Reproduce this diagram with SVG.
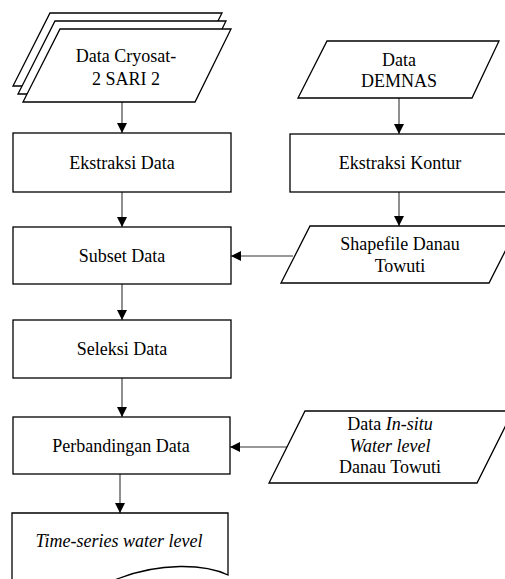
<svg xmlns="http://www.w3.org/2000/svg" width="505" height="579" viewBox="0 0 505 579">
<defs>
<marker id="arr" viewBox="0 0 10 10" refX="10" refY="5" markerWidth="10" markerHeight="10" markerUnits="userSpaceOnUse" orient="auto">
<path d="M0,0 L10,5 L0,10 z" fill="#000"/>
</marker>
<style>
.s{fill:#fff;stroke:#000;stroke-width:1.3}
.t{font-family:"Liberation Serif","Times New Roman",serif;font-size:18px;fill:#000;text-anchor:middle}
.i{font-style:italic}
.c{fill:none;stroke:#333;stroke-width:1.1;marker-end:url(#arr)}
</style>
</defs>
<rect width="505" height="579" fill="#fff"/>
<g id="connectors">
<path class="c" d="M122,102 V133"/>
<path class="c" d="M399,98 V134"/>
<path class="c" d="M122,192 V227"/>
<path class="c" d="M399,192 V226"/>
<path class="c" d="M293,256 H231"/>
<path class="c" d="M122,284 V320"/>
<path class="c" d="M122,378 V417"/>
<path class="c" d="M287,447 H230"/>
<path class="c" d="M120,474 V513"/>
</g>
<g id="cryosat">
<polygon class="s" points="50,13 222,13 185,86 13,86"/>
<polygon class="s" points="55,21 226,21 190,94 18,94"/>
<polygon class="s" points="60,29 231,29 195,102 23,102"/>
<text class="t" x="126" y="62">Data Cryosat-</text>
<text class="t" x="126" y="85">2 SARI 2</text>
</g>
<g id="demnas">
<polygon class="s" points="327,41 499,41 472,98 298,98"/>
<text class="t" x="399" y="66">Data</text>
<text class="t" x="399" y="87">DEMNAS</text>
</g>
<g id="ekstraksi-data">
<rect class="s" x="13" y="133" width="218" height="59"/>
<text class="t" x="122" y="169">Ekstraksi Data</text>
</g>
<g id="ekstraksi-kontur">
<rect class="s" x="290" y="134" width="218" height="58"/>
<text class="t" x="400" y="169">Ekstraksi Kontur</text>
</g>
<g id="subset-data">
<rect class="s" x="13" y="227" width="218" height="57"/>
<text class="t" x="122" y="262">Subset Data</text>
</g>
<g id="shapefile">
<polygon class="s" points="310,226 518,226 489,283 281,283"/>
<text class="t" x="400" y="250">Shapefile Danau</text>
<text class="t" x="400" y="272">Towuti</text>
</g>
<g id="seleksi-data">
<rect class="s" x="13" y="320" width="218" height="58"/>
<text class="t" x="122" y="355">Seleksi Data</text>
</g>
<g id="perbandingan-data">
<rect class="s" x="13" y="417" width="217" height="57"/>
<text class="t" x="121" y="452">Perbandingan Data</text>
</g>
<g id="insitu">
<polygon class="s" points="305,411 513,411 477,483 269,483"/>
<text class="t" x="390" y="430">Data <tspan class="i">In-situ</tspan></text>
<text class="t i" x="390" y="452">Water level</text>
<text class="t" x="390" y="473">Danau Towuti</text>
</g>
<g id="time-series">
<path class="s" d="M12,513 H228 V575 C205,564 160,562 117,579 C80,594 40,594 12,585 Z"/>
<text class="t i" x="119" y="547">Time-series water level</text>
</g>
</svg>
